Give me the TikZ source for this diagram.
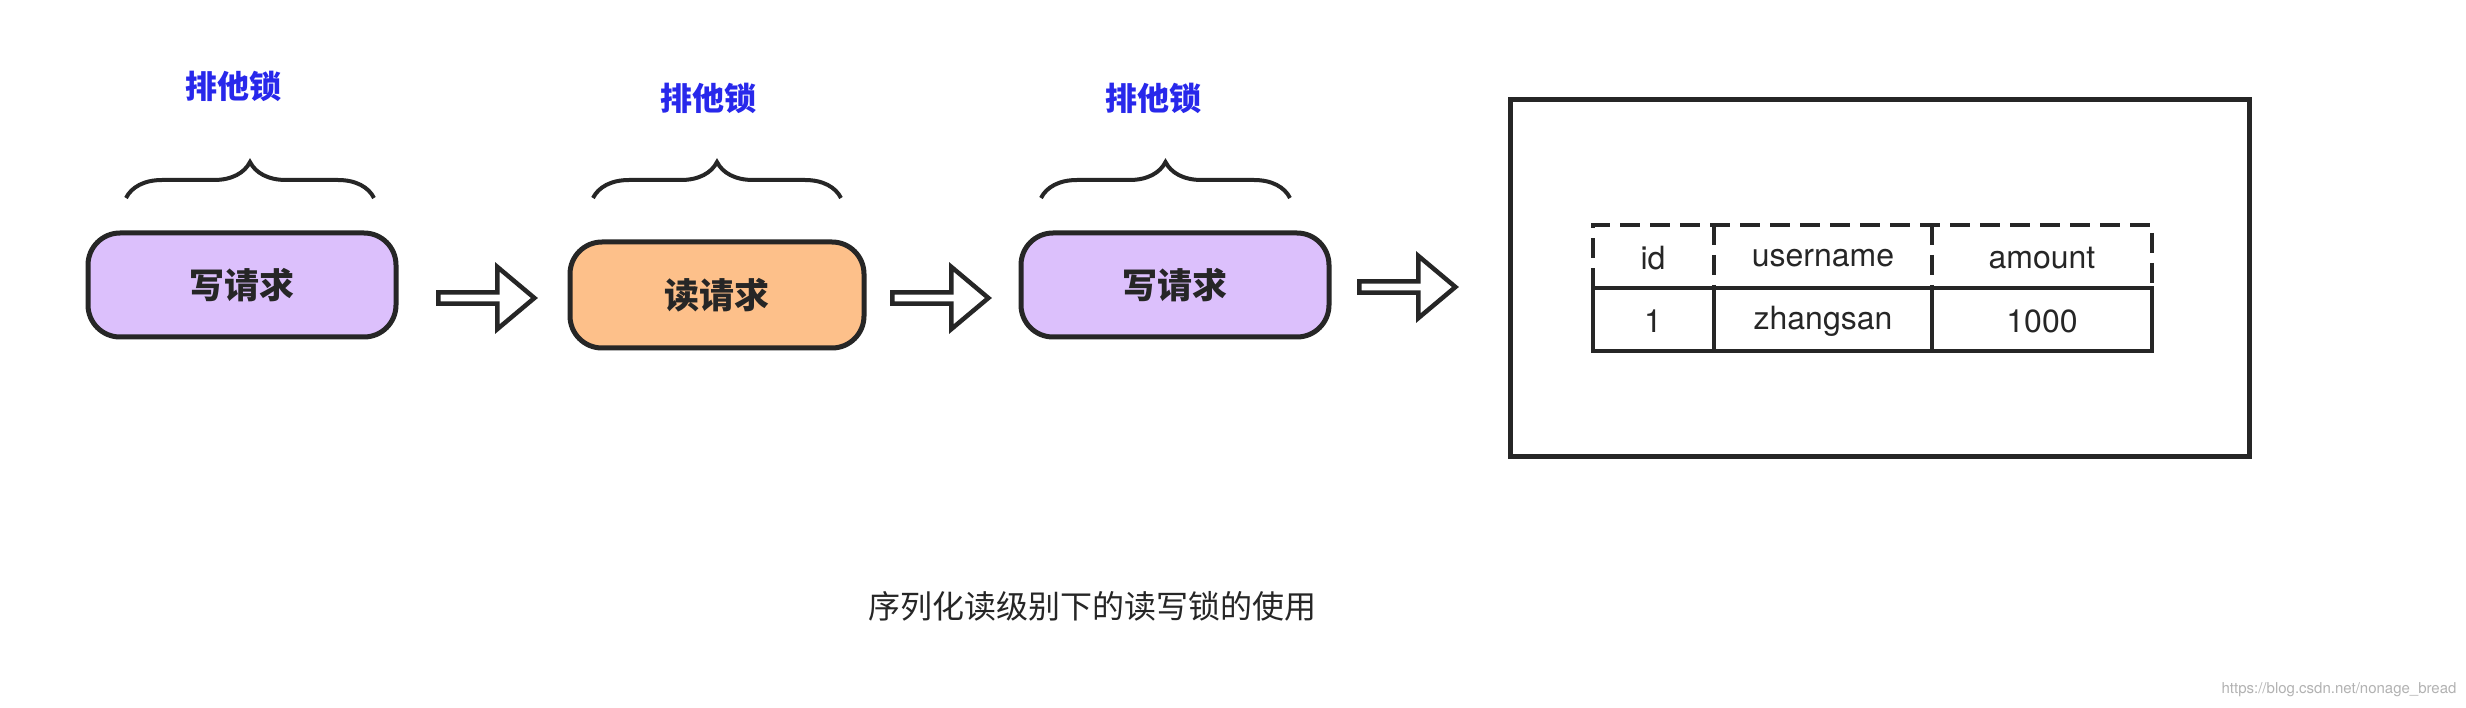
\documentclass[tikz,border=0pt]{standalone}
\usepackage{fontspec}
\setmainfont{TeX Gyre Heros}
\newfontfamily\cjk{Noto Sans CJK SC}
\usetikzlibrary{shapes.arrows,decorations.pathreplacing}
\begin{document}
\begin{tikzpicture}[x=1pt,y=-1pt,
  pill/.style={draw=black!85,line width=5pt,rounded corners=32pt,minimum width=308pt,minimum height=104pt,font=\cjk\bfseries\fontsize{35}{40}\selectfont,text=black!85},
  arr/.style={single arrow,draw=black!85,fill=white,line width=4.5pt,minimum width=62pt,minimum height=96pt,single arrow head extend=10pt,inner sep=0pt,single arrow tip angle=80},
  br/.style={decorate,decoration={brace,amplitude=36pt},draw=black!85,line width=4pt},
  lock/.style={font=\cjk\bfseries\fontsize{32}{36}\selectfont,text={rgb,255:red,40;green,40;blue,235}},
  cell/.style={font=\fontsize{32}{36}\selectfont,text=black!85}]
\useasboundingbox (0,0) rectangle (2466,708);
\fill[white] (0,0) rectangle (2466,708);
\node[pill,fill={rgb,255:red,220;green,192;blue,252}] (p1) at (242,285) {写请求};
\node[pill,fill={rgb,255:red,253;green,192;blue,138},minimum width=294pt,minimum height=106pt] (p2) at (717,295) {读请求};
\node[pill,fill={rgb,255:red,220;green,192;blue,252}] (p3) at (1175,285) {写请求};
\node[arr] (a1) at (483,298) {};
\node[arr] (a2) at (937,298) {};
\node[arr] (a3) at (1404,287) {};
\draw[br] (126,198) -- (374,198);
\draw[br] (593,198) -- (841,198);
\draw[br] (1041,198) -- (1290,198);
\node[lock] (l1) at (233,86) {排他锁};
\node[lock] (l2) at (708,98) {排他锁};
\node[lock] (l3) at (1153,98) {排他锁};
\node[draw=black!85,line width=4.5pt,minimum width=739pt,minimum height=357pt] (box) at (1880,278) {};
\draw[black!85,line width=4.5pt,dash pattern=on 20pt off 10pt] (1593,288) -- (1593,225) -- (2152,225) -- (2152,288);
\draw[black!85,line width=4.5pt,dash pattern=on 20pt off 10pt] (1714,225) -- (1714,288) (1932,225) -- (1932,288);
\draw[black!85,line width=4.5pt] (1593,288) rectangle (2152,351) (1714,288) -- (1714,351) (1932,288) -- (1932,351);
\node[cell] (h1) at (1653,258) {id};
\node[cell] (h2) at (1823,258) {username};
\node[cell] (h3) at (2042,258) {amount};
\node[cell] (c1) at (1653,321) {1};
\node[cell] (c2) at (1823,321) {zhangsan};
\node[cell] (c3) at (2042,321) {1000};
\node[font=\cjk\fontsize{32}{36}\selectfont,text=black!85] (cap) at (1092,606) {序列化读级别下的读写锁的使用};
\node[font=\fontsize{15}{18}\selectfont,text=black!30,anchor=east] (wm) at (2460,690) {https://blog.csdn.net/nonage\_bread};
\end{tikzpicture}
\end{document}
